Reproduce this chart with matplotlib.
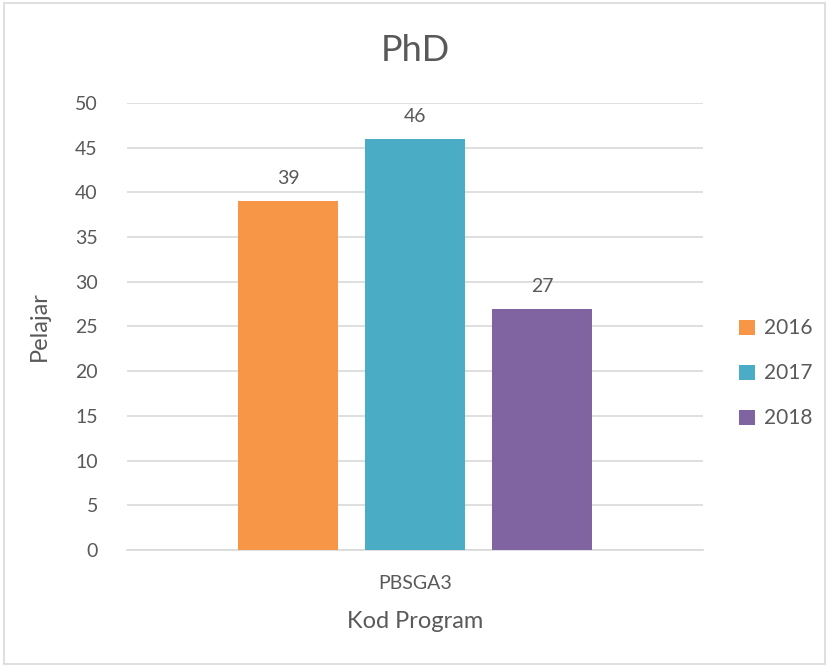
import matplotlib.pyplot as plt
from matplotlib.patches import Rectangle

plt.rcParams['font.family'] = ['Lato', 'DejaVu Sans']

categories = ['PBSGA3']
years = ['2016', '2017', '2018']
values = [39, 46, 27]
colors = ['#F79646', '#4BACC6', '#8064A2']
text_color = '#595959'

fig = plt.figure(figsize=(8.29, 6.67), dpi=100)
ax = fig.add_axes([0.1532, 0.1754, 0.6948, 0.6702])

# light grey border around the whole chart
fig.patches.append(Rectangle((0.005, 0.005), 0.99, 0.99, transform=fig.transFigure,
                             fill=False, edgecolor='#D9D9D9', linewidth=1.2))

width = 0.795
for i, (yr, v, c) in enumerate(zip(years, values, colors)):
    bars = ax.bar(i - 1, v, width=width, color=c, label=yr, zorder=3)
    ax.bar_label(bars, padding=10, fontsize=14, color=text_color)

ax.set_xlim(-2.268, 2.268)
ax.set_ylim(0, 50)
ax.set_yticks(range(0, 51, 5))
ax.set_xticks([0])
ax.set_xticklabels(categories)
ax.grid(axis='y', color='#D9D9D9', linewidth=1.2, zorder=0)
for s in ['top', 'right', 'left']:
    ax.spines[s].set_visible(False)
ax.spines['bottom'].set_color('#D9D9D9')
ax.spines['bottom'].set_linewidth(1.2)
ax.tick_params(axis='both', length=0, labelsize=14, colors=text_color)
ax.tick_params(axis='y', pad=21)
ax.tick_params(axis='x', pad=18)

ax.set_title('PhD', fontsize=26, color=text_color, pad=30)
ax.set_xlabel('Kod Program', fontsize=17, color=text_color, labelpad=14)
ax.set_ylabel('Pelajar', fontsize=17, color=text_color, labelpad=18)

ax.legend(loc='center left', bbox_to_anchor=(1.03, 0.395), frameon=False,
          fontsize=15, labelcolor=text_color, handlelength=0.75, handleheight=0.75,
          handletextpad=0.45, labelspacing=1.2)

fig.savefig('out.png', dpi=100)
